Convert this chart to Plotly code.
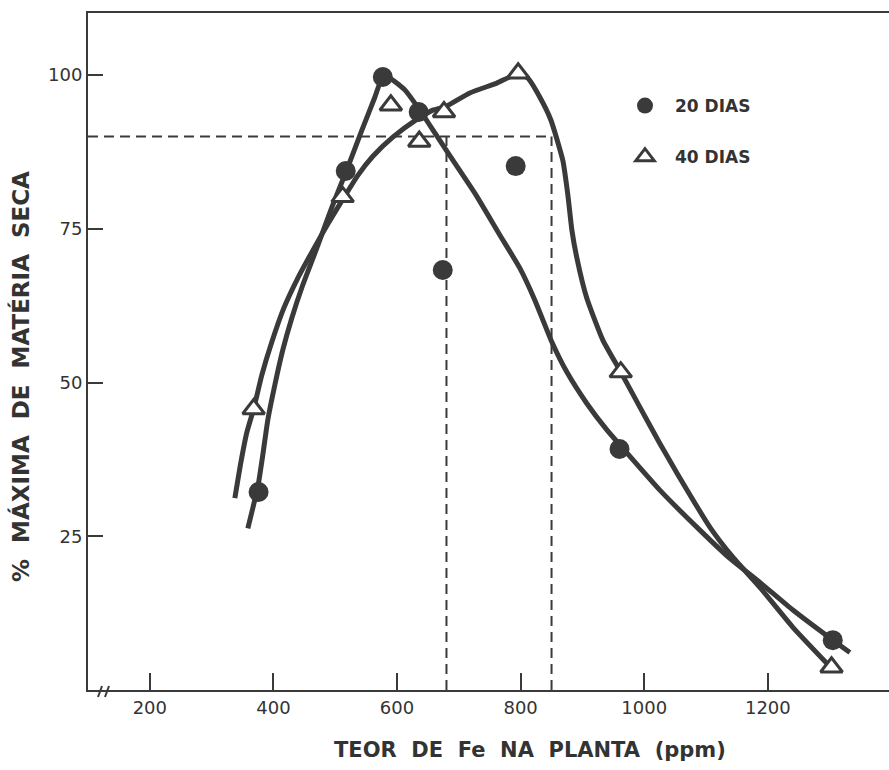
import plotly.graph_objects as go

# ---- data ----
x20 = [376, 517, 577, 635, 674, 792, 960, 1305]
y20 = [32.2, 84.4, 99.7, 94.0, 68.3, 85.2, 39.2, 8.1]
x40 = [368, 512, 590, 636, 676, 796, 962, 1303]
y40 = [45.7, 80.2, 95.1, 89.2, 94.0, 100.3, 51.7, 3.7]

curve20_x = [358.6, 366.7, 374.8, 382.8, 390.9, 402.3, 415.2, 429.8, 447.6, 471.9, 494.5, 517.2,
             543.0, 564.1, 577.0, 591.6, 612.6, 636.9, 664.4, 693.5, 725.9, 766.3, 798.7, 823.0,
             850.5, 874.8, 907.1, 939.5, 965.4, 1025.2, 1090.0, 1138.5, 1187.0, 1240.5, 1305.2,
             1332.7]
curve20_y = [26.3, 29.6, 33.0, 38.2, 43.9, 49.6, 55.3, 60.5, 65.9, 72.3, 78.5, 84.2,
             91.0, 96.4, 99.7, 99.3, 97.6, 94.3, 90.1, 85.7, 80.8, 74.0, 68.6, 63.4,
             56.6, 51.7, 46.6, 42.3, 39.3, 32.5, 26.0, 21.4, 17.5, 13.0, 8.1,
             6.1]
curve40_x = [337.6, 347.3, 357.0, 368.3, 381.2, 397.4, 416.8, 439.5, 463.8, 488.0, 512.3, 536.6,
             560.9, 593.2, 632.0, 658.0, 679.0, 717.8, 761.5, 795.5, 811.7, 831.1, 848.9, 868.3,
             876.4, 882.9, 890.9, 907.1, 933.0, 962.1, 992.9, 1025.2, 1052.8, 1106.1, 1143.4,
             1187.1, 1240.5, 1298.7]
curve40_y = [31.2, 37.0, 41.9, 45.8, 51.2, 56.6, 62.1, 67.0, 71.5, 75.8, 79.8, 83.7,
             86.8, 89.9, 92.8, 94.3, 94.9, 97.1, 98.7, 100.2, 99.5, 96.4, 92.7, 86.1,
             80.5, 74.8, 70.3, 63.7, 56.9, 51.7, 46.0, 40.1, 35.3, 26.5, 21.6,
             16.7, 10.2, 4.0]

threshold_y = 90
threshold_x = [680, 850]

x_ticks = [200, 400, 600, 800, 1000, 1200]
y_ticks = [25, 50, 75, 100]
x_range = [100, 1396]
y_range = [0, 110.1]

ink = "#3a3a3a"
txt = "#333333"
font_family = "DejaVu Sans, Verdana, sans-serif"
SP2 = "\u00a0\u00a0"

fig = go.Figure()

# reference dashed lines
fig.add_trace(go.Scatter(x=[x_range[0], threshold_x[1]], y=[threshold_y, threshold_y],
                         mode="lines", line=dict(color=ink, width=2, dash="10px,6px"),
                         showlegend=False, hoverinfo="skip"))
for xv in threshold_x:
    fig.add_trace(go.Scatter(x=[xv, xv], y=[y_range[0], threshold_y],
                             mode="lines", line=dict(color=ink, width=2, dash="10px,6px"),
                             showlegend=False, hoverinfo="skip"))

# fitted curves
fig.add_trace(go.Scatter(x=curve20_x, y=curve20_y, mode="lines",
                         line=dict(color=ink, width=5, shape="spline", smoothing=0.5),
                         showlegend=False, hoverinfo="skip"))
fig.add_trace(go.Scatter(x=curve40_x, y=curve40_y, mode="lines",
                         line=dict(color=ink, width=5, shape="spline", smoothing=0.5),
                         showlegend=False, hoverinfo="skip"))

# data points
fig.add_trace(go.Scatter(x=x20, y=y20, mode="markers", name="20 DIAS", legendgroup="a",
                         marker=dict(symbol="circle", size=20, color=ink,
                                     line=dict(width=0))))
fig.add_trace(go.Scatter(x=x40, y=y40, mode="markers", name="40 DIAS", legendgroup="b",
                         marker=dict(symbol="triangle-up", size=19, color="white",
                                     line=dict(width=3, color=ink))))

# axis break mark
for dx in (0, 7):
    fig.add_shape(type="line", xref="paper", yref="paper",
                  x0=(98 + dx - 88) / 801, x1=(102 + dx - 88) / 801,
                  y0=-7 / 677, y1=4 / 677,
                  line=dict(color=ink, width=2))

fig.add_annotation(text=SP2.join(["TEOR", "DE", "Fe", "NA", "PLANTA", "(ppm)"]),
                   xref="paper", yref="paper", x=(530 - 88) / 801, y=(690 - 750) / 677,
                   xanchor="center", yanchor="middle", showarrow=False,
                   font=dict(family=font_family, size=21, color=txt, weight="bold"))
fig.add_annotation(text=SP2.join(["%", "MÁXIMA", "DE", "MATÉRIA", "SECA"]),
                   xref="paper", yref="paper", x=(20 - 88) / 801, y=(690 - 377) / 677,
                   xanchor="center", yanchor="middle", textangle=-90, showarrow=False,
                   font=dict(family=font_family, size=23, color=txt, weight="bold"))

fig.update_layout(
    width=889, height=770,
    margin=dict(l=88, r=0, t=13, b=80),
    paper_bgcolor="white", plot_bgcolor="white",
    font=dict(family=font_family, color=txt),
    showlegend=True,
    legend=dict(x=(615 - 88) / 801, y=(690 - 88) / 677, xanchor="left", yanchor="top",
                bgcolor="rgba(0,0,0,0)", tracegroupgap=26, traceorder="grouped",
                itemwidth=50,
                font=dict(family=font_family, size=17, color=txt, weight="bold")),
    xaxis=dict(range=x_range, tickvals=x_ticks, ticktext=[str(v) for v in x_ticks],
               ticks="inside", ticklen=17, tickwidth=2, tickcolor=ink,
               showline=True, linewidth=2, linecolor=ink, mirror=True,
               showgrid=False, zeroline=False,
               tickfont=dict(family=font_family, size=18, color=txt)),
    yaxis=dict(range=y_range, tickvals=y_ticks, ticktext=[str(v) for v in y_ticks],
               ticks="inside", ticklen=15, tickwidth=2, tickcolor=ink,
               showline=True, linewidth=2, linecolor=ink, mirror=False,
               showgrid=False, zeroline=False,
               tickfont=dict(family=font_family, size=18, color=txt)),
)

fig.write_html("out.html")
